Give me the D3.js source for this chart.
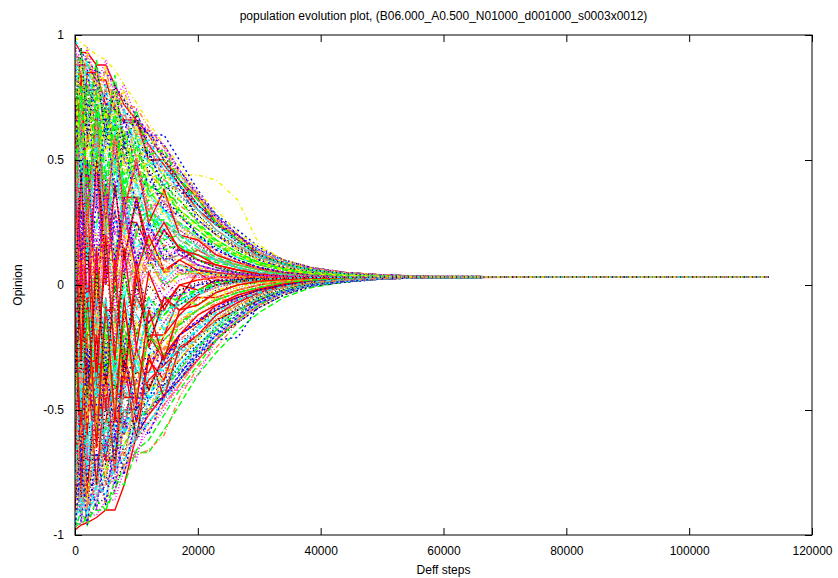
<!DOCTYPE html>
<html>
<head>
<meta charset="utf-8">
<script src="https://cdn.jsdelivr.net/npm/d3@7"></script>
<style>
  body { margin: 0; background: #fff; }
  svg { display: block; font-family: "Liberation Sans", Arial, sans-serif; }
</style>
</head>
<body>
<svg id="chart" width="838" height="578"></svg>
<script>
'use strict';

const TITLE = 'population evolution plot, (B06.000_A0.500_N01000_d001000_s0003x0012)';
const X_LABEL = 'Deff steps';
const Y_LABEL = 'Opinion';

const X_TICKS = [0, 20000, 40000, 60000, 80000, 100000, 120000];
const Y_TICKS = [-1, -0.5, 0, 0.5, 1];

// sample steps shared by every agent trajectory
const STEPS = [0, 1000, 2000, 3500, 5000, 6500, 8000, 10000, 12000, 14500,
    17000, 20000, 23000, 26500, 30000, 34000, 38500, 44000, 50000, 58000];
const END_STEP = 113000;
const FINAL_OPINION = 0.032;

// opinions of sampled agents at each step (first group)
const AGENTS_A = [
    [0.97, 0.93, 0.93, 0.88, 0.88, 0.8, 0.72, 0.66, 0.6, 0.5, 0.42, 0.35, 0.24, 0.2, 0.12, 0.09, 0.065, 0.05, 0.04, 0.034],
    [-0.95, -0.96, -0.93, -0.9, -0.9, -0.82, -0.72, -0.67, -0.67, -0.58, -0.48, -0.36, -0.27, -0.18, -0.11, -0.05, -0.01, 0.012, 0.024, 0.03],
    [0.45, 0.6, 0.72, 0.72, 0.55, 0.64, 0.6, 0.62, 0.62, 0.5, 0.4, 0.3, 0.24, 0.18, 0.12, 0.08, 0.06, 0.045, 0.038, 0.033],
    [-0.3, -0.3, -0.1, -0.35, -0.35, -0.2, 0.05, 0.05, -0.1, 0.02, -0.05, 0.0, 0.04, 0.02, 0.03, 0.035, 0.03, 0.032, 0.031, 0.032],
    [0.1, 0.1, 0.3, 0.22, 0.48, 0.48, 0.3, 0.15, 0.2, 0.26, 0.18, 0.1, 0.08, 0.06, 0.05, 0.04, 0.035, 0.033, 0.032, 0.032],
    [-0.7, -0.7, -0.88, -0.84, -0.8, -0.78, -0.72, -0.68, -0.66, -0.6, -0.45, -0.33, -0.25, -0.15, -0.09, -0.04, 0.0, 0.015, 0.025, 0.03],
    [0.8, 0.88, 0.88, 0.86, 0.8, 0.76, 0.7, 0.6, 0.52, 0.44, 0.44, 0.44, 0.42, 0.34, 0.16, 0.1, 0.07, 0.05, 0.04, 0.034],
    [-0.1, -0.25, -0.25, -0.5, -0.42, -0.42, -0.3, -0.2, -0.25, -0.15, -0.05, -0.08, -0.02, 0.0, 0.01, 0.02, 0.025, 0.028, 0.03, 0.031],
    [0.6, 0.6, 0.4, 0.4, 0.2, 0.1, 0.1, -0.05, 0.0, 0.08, 0.05, 0.06, 0.04, 0.05, 0.04, 0.035, 0.033, 0.032, 0.032, 0.032],

    [-0.98, -0.96, -0.95, -0.93, -0.9, -0.9, -0.8, -0.6, -0.52, -0.44, -0.38, -0.3, -0.22, -0.14, -0.08, -0.03, 0.0, 0.015, 0.025, 0.03],
    [0.3, 0.3, 0.1, 0.1, -0.15, -0.15, -0.05, 0.1, 0.18, 0.1, 0.12, 0.08, 0.06, 0.05, 0.04, 0.035, 0.033, 0.032, 0.032, 0.032],
    [-0.6, -0.62, -0.7, -0.7, -0.66, -0.6, -0.55, -0.5, -0.42, -0.4, -0.35, -0.28, -0.22, -0.21, -0.08, -0.03, 0.0, 0.012, 0.024, 0.03],
    [-0.75, -0.75, -0.6, -0.6, -0.55, -0.62, -0.5, -0.45, -0.45, -0.42, -0.42, -0.36, -0.22, -0.12, -0.06, -0.02, 0.01, 0.02, 0.027, 0.031],
    [0.85, 0.85, 0.7, 0.7, 0.5, 0.5, 0.35, 0.4, 0.3, 0.22, 0.25, 0.18, 0.12, 0.08, 0.06, 0.045, 0.038, 0.034, 0.033, 0.032],
    [0.92, 0.9, 0.86, 0.8, 0.78, 0.74, 0.72, 0.71, 0.63, 0.55, 0.45, 0.35, 0.27, 0.2, 0.13, 0.09, 0.065, 0.05, 0.04, 0.034],
    [-0.4, -0.4, -0.2, -0.2, 0.1, 0.1, 0.0, -0.1, -0.05, 0.05, 0.0, 0.02, 0.03, 0.025, 0.03, 0.03, 0.031, 0.032, 0.032, 0.032],
    [0.7, 0.72, 0.76, 0.76, 0.7, 0.62, 0.58, 0.5, 0.48, 0.42, 0.36, 0.28, 0.21, 0.15, 0.11, 0.08, 0.055, 0.045, 0.037, 0.033],
    [-0.85, -0.85, -0.8, -0.72, -0.72, -0.6, -0.48, -0.5, -0.4, -0.32, -0.26, -0.2, -0.14, -0.09, -0.05, -0.02, 0.005, 0.018, 0.026, 0.03],

    [0.2, 0.2, -0.3, -0.3, 0.1, 0.1, 0.25, 0.25, 0.15, 0.05, 0.1, 0.14, 0.1, 0.07, 0.05, 0.04, 0.035, 0.033, 0.032, 0.032],
    [0.9, 0.9, 0.84, 0.7, 0.7, 0.56, 0.56, 0.45, 0.38, 0.3, 0.25, 0.2, 0.16, 0.12, 0.09, 0.065, 0.05, 0.04, 0.035, 0.032],
    [-0.88, -0.88, -0.82, -0.78, -0.66, -0.66, -0.58, -0.52, -0.46, -0.38, -0.3, -0.24, -0.18, -0.12, -0.07, -0.03, 0.0, 0.015, 0.025, 0.03],
    [0.55, 0.55, 0.3, 0.3, 0.38, 0.2, 0.2, 0.3, 0.22, 0.18, 0.12, 0.08, 0.06, 0.05, 0.04, 0.036, 0.034, 0.033, 0.032, 0.032],
    [-0.5, -0.5, -0.62, -0.45, -0.45, -0.3, -0.36, -0.2, -0.28, -0.18, -0.12, -0.1, -0.05, -0.02, 0.0, 0.015, 0.022, 0.027, 0.03, 0.031],
    [0.05, 0.05, 0.25, 0.25, 0.35, 0.15, 0.15, 0.0, 0.1, 0.1, 0.06, 0.05, 0.04, 0.035, 0.033, 0.032, 0.032, 0.032, 0.032, 0.032],
    [-0.8, -0.8, -0.75, -0.75, -0.7, -0.55, -0.55, -0.42, -0.42, -0.35, -0.25, -0.18, -0.12, -0.08, -0.05, -0.02, 0.005, 0.018, 0.026, 0.03],
    [0.4, 0.3, 0.3, 0.5, 0.5, 0.42, 0.32, 0.32, 0.25, 0.2, 0.22, 0.16, 0.12, 0.09, 0.07, 0.05, 0.04, 0.035, 0.033, 0.032],
    [-0.2, -0.2, 0.05, 0.05, -0.12, -0.25, -0.25, -0.1, -0.05, -0.1, -0.02, 0.0, 0.01, 0.02, 0.025, 0.028, 0.03, 0.031, 0.032, 0.032],

    [-0.65, -0.65, -0.4, -0.55, -0.55, -0.3, -0.45, -0.45, -0.2, -0.3, -0.2, -0.15, -0.1, -0.06, -0.03, 0.0, 0.015, 0.023, 0.028, 0.031],
    [0.65, 0.65, 0.6, 0.45, 0.45, 0.5, 0.38, 0.28, 0.28, 0.2, 0.16, 0.12, 0.1, 0.08, 0.06, 0.045, 0.038, 0.034, 0.033, 0.032],
    [0.95, 0.93, 0.9, 0.85, 0.85, 0.8, 0.74, 0.68, 0.6, 0.6, 0.5, 0.38, 0.28, 0.22, 0.15, 0.1, 0.07, 0.05, 0.04, 0.034],
    [-0.05, 0.15, 0.15, -0.15, -0.15, -0.05, 0.1, 0.0, 0.05, -0.05, 0.02, 0.04, 0.02, 0.03, 0.03, 0.032, 0.032, 0.032, 0.032, 0.032],
    [-0.92, -0.9, -0.9, -0.85, -0.75, -0.75, -0.64, -0.56, -0.5, -0.4, -0.32, -0.25, -0.16, -0.1, -0.06, -0.02, 0.005, 0.018, 0.026, 0.03],
    [0.35, 0.35, 0.48, 0.48, 0.3, 0.42, 0.42, 0.36, 0.3, 0.25, 0.18, 0.14, 0.1, 0.08, 0.06, 0.045, 0.04, 0.035, 0.033, 0.032],
    [0.5, 0.5, 0.62, 0.62, 0.55, 0.55, 0.48, 0.4, 0.35, 0.28, 0.22, 0.18, 0.14, 0.1, 0.07, 0.05, 0.04, 0.035, 0.033, 0.032],
    [-0.45, -0.45, -0.32, -0.32, -0.5, -0.38, -0.38, -0.28, -0.3, -0.22, -0.16, -0.1, -0.06, -0.03, -0.01, 0.01, 0.02, 0.026, 0.03, 0.031],
    [0.15, 0.15, 0.35, 0.2, 0.2, 0.28, 0.05, 0.05, 0.15, 0.1, 0.1, 0.06, 0.05, 0.04, 0.035, 0.033, 0.032, 0.032, 0.032, 0.032],

    [0.1, 0.1, -0.45, -0.45, -0.1, -0.3, -0.3, -0.05, -0.15, -0.08, 0.0, -0.02, 0.02, 0.01, 0.02, 0.025, 0.028, 0.03, 0.031, 0.032],
    [-0.72, -0.72, -0.5, -0.5, -0.58, -0.4, -0.4, -0.35, -0.22, -0.22, -0.15, -0.1, -0.06, -0.03, -0.01, 0.01, 0.02, 0.026, 0.03, 0.031],
    [0.25, 0.4, 0.4, 0.32, 0.6, 0.6, 0.5, 0.42, 0.42, 0.35, 0.28, 0.2, 0.14, 0.1, 0.07, 0.05, 0.04, 0.035, 0.033, 0.032],
    [0.82, 0.8, 0.8, 0.66, 0.66, 0.52, 0.45, 0.45, 0.32, 0.32, 0.24, 0.18, 0.14, 0.1, 0.07, 0.055, 0.045, 0.038, 0.034, 0.032],
    [-0.15, -0.15, -0.35, -0.2, -0.2, 0.0, -0.12, -0.12, -0.2, -0.12, -0.06, -0.03, 0.0, 0.01, 0.02, 0.025, 0.028, 0.03, 0.031, 0.032],
    [-0.9, -0.9, -0.88, -0.8, -0.8, -0.72, -0.66, -0.6, -0.55, -0.48, -0.4, -0.28, -0.2, -0.13, -0.07, -0.03, 0.0, 0.015, 0.025, 0.03],
    [0.99, 0.97, 0.95, 0.92, 0.9, 0.86, 0.8, 0.73, 0.65, 0.56, 0.48, 0.37, 0.3, 0.21, 0.15, 0.1, 0.07, 0.05, 0.04, 0.034],
    [0.55, 0.5, 0.7, 0.7, 0.62, 0.62, 0.52, 0.55, 0.46, 0.4, 0.34, 0.26, 0.2, 0.14, 0.1, 0.07, 0.05, 0.04, 0.035, 0.033],
    [-0.55, -0.55, -0.4, -0.4, -0.25, -0.35, -0.18, -0.18, -0.25, -0.15, -0.1, -0.06, -0.03, -0.01, 0.005, 0.015, 0.022, 0.027, 0.03, 0.031],

    [0.88, 0.88, 0.88, 0.82, 0.82, 0.7, 0.65, 0.65, 0.56, 0.48, 0.4, 0.3, 0.24, 0.2, 0.12, 0.08, 0.06, 0.045, 0.037, 0.033],
    [0.0, 0.0, -0.2, 0.15, 0.15, 0.05, 0.05, 0.2, 0.1, 0.0, 0.04, 0.06, 0.04, 0.035, 0.03, 0.032, 0.032, 0.032, 0.032, 0.032],
    [-0.78, -0.78, -0.85, -0.85, -0.8, -0.7, -0.7, -0.6, -0.48, -0.45, -0.36, -0.27, -0.2, -0.15, -0.09, -0.04, -0.005, 0.012, 0.024, 0.03],
    [0.35, 0.5, 0.5, 0.4, 0.4, 0.25, 0.32, 0.18, 0.18, 0.22, 0.15, 0.1, 0.07, 0.05, 0.04, 0.035, 0.033, 0.032, 0.032, 0.032],
    [0.75, 0.75, 0.64, 0.64, 0.58, 0.68, 0.6, 0.52, 0.5, 0.44, 0.44, 0.36, 0.28, 0.2, 0.14, 0.095, 0.065, 0.05, 0.04, 0.034],
    [-0.35, -0.35, -0.5, -0.5, -0.38, -0.44, -0.3, -0.3, -0.35, -0.25, -0.18, -0.12, -0.07, -0.04, -0.02, 0.0, 0.015, 0.024, 0.028, 0.031],
    [0.25, 0.25, 0.12, 0.12, 0.28, 0.28, 0.2, 0.08, 0.08, 0.12, 0.1, 0.07, 0.05, 0.045, 0.04, 0.036, 0.034, 0.033, 0.032, 0.032],
    [-0.95, -0.93, -0.93, -0.88, -0.85, -0.82, -0.7, -0.62, -0.55, -0.46, -0.38, -0.29, -0.22, -0.15, -0.09, -0.04, -0.005, 0.012, 0.024, 0.03],
    [0.42, 0.42, 0.55, 0.55, 0.45, 0.38, 0.38, 0.28, 0.32, 0.24, 0.2, 0.16, 0.12, 0.09, 0.065, 0.05, 0.04, 0.035, 0.033, 0.032],

    [-0.4, -0.4, -0.7, -0.7, -0.62, -0.62, -0.5, -0.5, -0.38, -0.32, -0.26, -0.2, -0.14, -0.1, -0.06, -0.02, 0.005, 0.018, 0.026, 0.03],
    [0.78, 0.78, 0.72, 0.72, 0.6, 0.52, 0.52, 0.46, 0.4, 0.36, 0.3, 0.24, 0.18, 0.13, 0.09, 0.065, 0.05, 0.04, 0.035, 0.032],
    [0.0, 0.0, 0.18, 0.18, 0.05, 0.25, 0.25, 0.12, 0.12, 0.06, 0.08, 0.06, 0.05, 0.04, 0.035, 0.033, 0.032, 0.032, 0.032, 0.032],
    [-0.6, -0.6, -0.66, -0.52, -0.52, -0.48, -0.4, -0.4, -0.3, -0.28, -0.2, -0.14, -0.09, -0.05, -0.02, 0.0, 0.015, 0.024, 0.028, 0.031],
    [0.3, 0.3, 0.5, 0.38, 0.38, 0.35, 0.45, 0.45, 0.36, 0.3, 0.24, 0.19, 0.15, 0.11, 0.08, 0.06, 0.045, 0.038, 0.034, 0.032],
    [0.7, 0.7, 0.66, 0.66, 0.58, 0.58, 0.5, 0.4, 0.4, 0.33, 0.27, 0.22, 0.16, 0.12, 0.08, 0.06, 0.045, 0.038, 0.034, 0.032],
    [-0.25, -0.25, 0.0, 0.0, -0.3, -0.3, -0.2, -0.2, -0.1, -0.14, -0.08, -0.04, -0.01, 0.005, 0.015, 0.022, 0.027, 0.03, 0.031, 0.032],
    [0.92, 0.9, 0.9, 0.8, 0.8, 0.74, 0.74, 0.64, 0.58, 0.52, 0.46, 0.36, 0.28, 0.2, 0.14, 0.1, 0.07, 0.05, 0.04, 0.034],
    [-0.9, -0.9, -0.86, -0.86, -0.76, -0.76, -0.68, -0.58, -0.5, -0.42, -0.34, -0.26, -0.18, -0.12, -0.07, -0.03, 0.0, 0.015, 0.025, 0.03],

    [0.6, 0.6, 0.85, 0.85, 0.72, 0.72, 0.66, 0.66, 0.5, 0.5, 0.42, 0.32, 0.26, 0.18, 0.11, 0.08, 0.06, 0.045, 0.037, 0.033],
    [-0.35, -0.35, -0.15, -0.15, -0.4, -0.2, -0.2, -0.3, -0.12, -0.12, -0.06, -0.08, -0.03, 0.0, 0.01, 0.02, 0.025, 0.028, 0.03, 0.031],
    [0.68, 0.68, 0.8, 0.8, 0.7, 0.7, 0.66, 0.56, 0.52, 0.46, 0.38, 0.32, 0.25, 0.18, 0.12, 0.085, 0.06, 0.045, 0.037, 0.033],
    [-0.97, -0.95, -0.92, -0.92, -0.86, -0.86, -0.74, -0.66, -0.58, -0.5, -0.4, -0.3, -0.22, -0.14, -0.08, -0.03, 0.0, 0.015, 0.025, 0.03],
    [0.5, 0.5, 0.35, 0.35, 0.45, 0.25, 0.25, 0.3, 0.3, 0.2, 0.15, 0.12, 0.1, 0.07, 0.05, 0.04, 0.036, 0.034, 0.033, 0.032],
    [0.15, 0.15, 0.0, 0.0, 0.2, 0.12, 0.12, 0.15, 0.05, 0.05, 0.08, 0.05, 0.04, 0.035, 0.033, 0.032, 0.032, 0.032, 0.032, 0.032],
    [-0.62, -0.62, -0.55, -0.55, -0.46, -0.52, -0.4, -0.32, -0.32, -0.26, -0.2, -0.15, -0.1, -0.06, -0.03, -0.01, 0.01, 0.02, 0.027, 0.031],
    [0.2, 0.2, 0.42, 0.42, 0.25, 0.35, 0.35, 0.22, 0.22, 0.16, 0.14, 0.1, 0.07, 0.06, 0.045, 0.04, 0.035, 0.033, 0.032, 0.032],
    [0.87, 0.87, 0.82, 0.75, 0.75, 0.65, 0.6, 0.6, 0.54, 0.45, 0.38, 0.3, 0.22, 0.16, 0.11, 0.08, 0.06, 0.045, 0.037, 0.033],

    [-0.8, -0.8, -0.2, -0.2, -0.5, -0.5, -0.1, -0.35, -0.35, -0.2, -0.12, -0.05, -0.05, -0.02, 0.0, 0.015, 0.022, 0.027, 0.03, 0.031],
    [0.45, 0.45, 0.25, 0.25, 0.4, 0.4, 0.32, 0.36, 0.26, 0.26, 0.2, 0.15, 0.11, 0.08, 0.06, 0.045, 0.038, 0.034, 0.033, 0.032],
    [-0.3, -0.3, -0.48, -0.48, -0.32, -0.32, -0.42, -0.25, -0.25, -0.3, -0.2, -0.14, -0.1, -0.06, -0.03, -0.005, 0.012, 0.022, 0.028, 0.031],
    [0.92, 0.92, 0.86, 0.86, 0.8, 0.8, 0.68, 0.62, 0.55, 0.46, 0.4, 0.32, 0.24, 0.17, 0.12, 0.085, 0.06, 0.045, 0.037, 0.033],
    [-0.85, -0.82, -0.82, -0.68, -0.68, -0.56, -0.6, -0.48, -0.44, -0.36, -0.28, -0.21, -0.15, -0.1, -0.05, -0.02, 0.005, 0.018, 0.026, 0.03],
    [0.6, 0.55, 0.55, 0.75, 0.75, 0.66, 0.54, 0.54, 0.45, 0.38, 0.32, 0.26, 0.2, 0.15, 0.1, 0.07, 0.05, 0.04, 0.035, 0.032],
    [-0.1, -0.1, 0.2, 0.2, 0.0, 0.0, 0.12, 0.12, 0.02, 0.06, 0.04, 0.05, 0.04, 0.035, 0.033, 0.032, 0.032, 0.032, 0.032, 0.032],
    [-0.7, -0.7, -0.6, -0.6, -0.68, -0.52, -0.52, -0.46, -0.4, -0.34, -0.27, -0.2, -0.14, -0.08, -0.04, -0.01, 0.01, 0.02, 0.027, 0.031],
    [0.05, 0.05, -0.15, -0.15, 0.1, 0.1, -0.05, -0.05, 0.08, 0.03, 0.05, 0.03, 0.035, 0.03, 0.032, 0.032, 0.032, 0.032, 0.032, 0.032],

    [0.4, 0.4, 0.6, 0.6, 0.05, 0.05, 0.35, 0.35, 0.1, 0.22, 0.15, 0.1, 0.08, 0.06, 0.045, 0.038, 0.035, 0.033, 0.032, 0.032],
    [-0.88, -0.88, -0.8, -0.8, -0.74, -0.64, -0.64, -0.54, -0.5, -0.42, -0.34, -0.25, -0.18, -0.11, -0.06, -0.02, 0.005, 0.018, 0.026, 0.03],
    [0.82, 0.82, 0.78, 0.72, 0.72, 0.76, 0.7, 0.64, 0.6, 0.56, 0.46, 0.36, 0.27, 0.2, 0.13, 0.09, 0.065, 0.05, 0.04, 0.034],
    [-0.2, -0.2, -0.35, -0.35, -0.1, -0.1, -0.22, -0.15, -0.15, -0.06, -0.1, -0.04, -0.01, 0.01, 0.02, 0.025, 0.028, 0.03, 0.031, 0.032],
    [0.62, 0.62, 0.45, 0.45, 0.52, 0.52, 0.4, 0.48, 0.48, 0.4, 0.45, 0.3, 0.22, 0.16, 0.11, 0.08, 0.055, 0.045, 0.037, 0.033],
    [-0.5, -0.5, -0.65, -0.65, -0.55, -0.55, -0.45, -0.38, -0.4, -0.3, -0.22, -0.16, -0.11, -0.07, -0.03, -0.01, 0.01, 0.02, 0.027, 0.031],
    [0.72, 0.72, 0.62, 0.62, 0.7, 0.6, 0.6, 0.52, 0.44, 0.38, 0.3, 0.24, 0.18, 0.13, 0.09, 0.065, 0.05, 0.04, 0.035, 0.032],
    [0.3, 0.3, 0.1, 0.1, 0.22, 0.22, 0.15, 0.05, 0.05, 0.12, 0.08, 0.06, 0.05, 0.04, 0.035, 0.033, 0.032, 0.032, 0.032, 0.032],
    [-0.45, -0.45, -0.6, -0.6, -0.45, -0.45, -0.35, -0.4, -0.3, -0.22, -0.16, -0.12, -0.08, -0.04, -0.015, 0.005, 0.018, 0.025, 0.029, 0.031]
];

// second group: agents that swing back and forth early on
const AGENTS_B = [
    [-0.5, 0.2, 0.2, -0.6, -0.1, -0.1, -0.4, 0.1, -0.2, -0.2, -0.05, 0.05, 0.0, 0.02, 0.03, 0.03, 0.031, 0.032, 0.032, 0.032],
    [0.75, 0.4, 0.4, 0.62, 0.2, 0.45, 0.45, 0.3, 0.34, 0.18, 0.2, 0.12, 0.09, 0.07, 0.05, 0.042, 0.036, 0.034, 0.033, 0.032],
    [-0.9, -0.6, -0.8, -0.5, -0.72, -0.45, -0.6, -0.38, -0.46, -0.3, -0.26, -0.18, -0.12, -0.07, -0.035, -0.01, 0.01, 0.02, 0.027, 0.031],
    [0.15, -0.4, -0.1, -0.1, -0.5, -0.2, 0.1, -0.3, -0.1, -0.15, -0.06, -0.02, 0.0, 0.015, 0.022, 0.027, 0.03, 0.031, 0.032, 0.032],
    [0.98, 0.94, 0.7, 0.82, 0.6, 0.74, 0.56, 0.62, 0.48, 0.5, 0.36, 0.3, 0.22, 0.16, 0.11, 0.08, 0.06, 0.045, 0.037, 0.033],
    [-0.2, 0.35, 0.1, 0.4, 0.0, 0.3, 0.05, 0.22, 0.1, 0.16, 0.08, 0.08, 0.05, 0.04, 0.035, 0.033, 0.032, 0.032, 0.032, 0.032],
    [-0.95, -0.7, -0.88, -0.6, -0.75, -0.68, -0.5, -0.55, -0.42, -0.38, -0.3, -0.22, -0.16, -0.1, -0.05, -0.02, 0.005, 0.018, 0.026, 0.03],
    [0.5, 0.8, 0.55, 0.8, 0.65, 0.72, 0.5, 0.58, 0.52, 0.4, 0.38, 0.28, 0.2, 0.15, 0.1, 0.07, 0.055, 0.042, 0.036, 0.033],
    [-0.6, -0.2, -0.5, -0.2, -0.4, -0.15, -0.3, -0.12, -0.2, -0.1, -0.08, -0.04, -0.01, 0.01, 0.02, 0.025, 0.028, 0.03, 0.031, 0.032],

    [0.3, -0.55, -0.55, -0.2, -0.7, -0.3, -0.6, -0.25, -0.42, -0.28, -0.2, -0.12, -0.08, -0.04, -0.015, 0.005, 0.018, 0.025, 0.029, 0.031],
    [-0.05, 0.5, 0.25, 0.55, 0.3, 0.1, 0.4, 0.2, 0.3, 0.14, 0.16, 0.1, 0.07, 0.05, 0.04, 0.035, 0.033, 0.032, 0.032, 0.032],
    [0.9, 0.6, 0.86, 0.58, 0.78, 0.5, 0.66, 0.46, 0.54, 0.38, 0.4, 0.26, 0.2, 0.14, 0.1, 0.07, 0.05, 0.04, 0.035, 0.032],
    [-0.85, -0.5, -0.75, -0.75, -0.4, -0.62, -0.35, -0.52, -0.3, -0.36, -0.22, -0.2, -0.12, -0.06, -0.03, -0.005, 0.012, 0.022, 0.028, 0.031],
    [0.35, -0.1, 0.2, -0.2, 0.15, 0.0, 0.3, 0.05, 0.18, 0.02, 0.08, 0.04, 0.05, 0.03, 0.032, 0.032, 0.032, 0.032, 0.032, 0.032],
    [-0.75, -0.3, -0.65, -0.65, -0.25, -0.5, -0.3, -0.42, -0.3, -0.26, -0.15, -0.1, -0.06, -0.03, -0.01, 0.01, 0.02, 0.026, 0.03, 0.031],
    [0.65, 0.3, 0.65, 0.4, 0.7, 0.35, 0.55, 0.32, 0.4, 0.28, 0.24, 0.18, 0.12, 0.09, 0.065, 0.05, 0.04, 0.035, 0.033, 0.032],
    [-0.35, 0.1, -0.35, 0.0, -0.25, 0.1, -0.15, 0.05, -0.1, 0.0, -0.02, 0.01, 0.02, 0.025, 0.028, 0.03, 0.031, 0.032, 0.032, 0.032],
    [0.96, 0.75, 0.92, 0.7, 0.86, 0.65, 0.75, 0.58, 0.6, 0.5, 0.42, 0.34, 0.26, 0.18, 0.12, 0.085, 0.06, 0.045, 0.037, 0.033],

    [-0.9, -0.4, -0.85, -0.3, -0.7, -0.7, -0.25, -0.55, -0.3, -0.38, -0.2, -0.15, -0.08, -0.05, -0.02, 0.0, 0.015, 0.024, 0.028, 0.031],
    [0.2, -0.3, 0.0, -0.4, -0.1, -0.35, 0.05, -0.2, -0.05, -0.12, -0.04, -0.02, 0.01, 0.02, 0.025, 0.028, 0.03, 0.031, 0.032, 0.032],
    [0.58, 0.85, 0.6, 0.82, 0.62, 0.78, 0.58, 0.66, 0.56, 0.52, 0.42, 0.34, 0.26, 0.19, 0.13, 0.09, 0.065, 0.05, 0.04, 0.034],
    [0.7, 0.2, 0.5, 0.15, 0.45, 0.2, 0.38, 0.1, 0.25, 0.12, 0.14, 0.08, 0.06, 0.045, 0.038, 0.034, 0.033, 0.032, 0.032, 0.032],
    [-0.65, -0.9, -0.6, -0.82, -0.55, -0.7, -0.5, -0.58, -0.45, -0.42, -0.32, -0.24, -0.17, -0.1, -0.05, -0.02, 0.005, 0.018, 0.026, 0.03],
    [0.45, 0.05, 0.45, 0.0, 0.35, 0.1, 0.25, 0.0, 0.15, 0.05, 0.06, 0.04, 0.035, 0.03, 0.032, 0.032, 0.032, 0.032, 0.032, 0.032],
    [-0.3, -0.65, -0.25, -0.6, -0.3, -0.5, -0.2, -0.4, -0.2, -0.25, -0.14, -0.1, -0.05, -0.02, 0.0, 0.015, 0.022, 0.027, 0.03, 0.031],
    [0.85, 0.5, 0.8, 0.45, 0.7, 0.45, 0.6, 0.4, 0.46, 0.32, 0.3, 0.2, 0.15, 0.1, 0.07, 0.05, 0.04, 0.035, 0.033, 0.032],
    [0.1, 0.6, 0.2, 0.55, 0.25, 0.5, 0.2, 0.4, 0.22, 0.3, 0.18, 0.14, 0.1, 0.07, 0.05, 0.04, 0.035, 0.033, 0.032, 0.032],

    [0.75, 0.0, 0.5, -0.1, 0.4, 0.0, 0.3, 0.05, 0.2, 0.06, 0.1, 0.06, 0.05, 0.04, 0.035, 0.033, 0.032, 0.032, 0.032, 0.032],
    [-0.98, -0.9, -0.96, -0.86, -0.9, -0.78, -0.8, -0.66, -0.62, -0.52, -0.42, -0.32, -0.22, -0.14, -0.08, -0.03, 0.0, 0.015, 0.025, 0.03],
    [-0.15, 0.3, -0.1, 0.35, 0.0, 0.3, 0.05, 0.25, 0.08, 0.15, 0.06, 0.06, 0.04, 0.035, 0.033, 0.032, 0.032, 0.032, 0.032, 0.032],
    [0.62, 0.9, 0.7, 0.86, 0.66, 0.8, 0.6, 0.7, 0.56, 0.54, 0.44, 0.36, 0.27, 0.2, 0.14, 0.09, 0.065, 0.05, 0.04, 0.034],
    [-0.4, -0.8, -0.5, -0.78, -0.45, -0.65, -0.4, -0.52, -0.35, -0.34, -0.24, -0.18, -0.12, -0.07, -0.03, -0.01, 0.01, 0.02, 0.027, 0.031],
    [0.88, 0.62, 0.84, 0.55, 0.8, 0.52, 0.7, 0.5, 0.56, 0.42, 0.38, 0.3, 0.22, 0.16, 0.11, 0.08, 0.055, 0.045, 0.037, 0.033],
    [0.0, -0.45, -0.1, -0.5, -0.2, -0.4, -0.1, -0.3, -0.15, -0.18, -0.1, -0.06, -0.02, 0.0, 0.015, 0.022, 0.027, 0.03, 0.031, 0.032],
    [-0.75, -0.45, -0.78, -0.4, -0.66, -0.38, -0.56, -0.34, -0.42, -0.28, -0.24, -0.16, -0.1, -0.05, -0.02, 0.0, 0.015, 0.024, 0.028, 0.031],
    [0.52, 0.15, 0.48, 0.1, 0.4, 0.15, 0.32, 0.12, 0.24, 0.1, 0.12, 0.07, 0.05, 0.04, 0.035, 0.033, 0.032, 0.032, 0.032, 0.032],

    [-0.25, 0.45, -0.1, 0.5, 0.0, 0.4, 0.1, 0.35, 0.15, 0.25, 0.14, 0.12, 0.08, 0.06, 0.045, 0.038, 0.035, 0.033, 0.032, 0.032],
    [0.82, 0.55, 0.8, 0.5, 0.72, 0.48, 0.62, 0.42, 0.5, 0.36, 0.34, 0.25, 0.18, 0.13, 0.09, 0.065, 0.05, 0.04, 0.035, 0.032],
    [-0.7, -0.95, -0.72, -0.9, -0.62, -0.8, -0.55, -0.62, -0.5, -0.44, -0.36, -0.26, -0.19, -0.12, -0.06, -0.025, 0.0, 0.015, 0.025, 0.03],
    [0.28, 0.65, 0.3, 0.6, 0.35, 0.55, 0.3, 0.48, 0.3, 0.34, 0.22, 0.17, 0.12, 0.09, 0.065, 0.05, 0.04, 0.035, 0.033, 0.032],
    [-0.55, -0.1, -0.5, -0.05, -0.4, -0.1, -0.3, -0.05, -0.2, -0.1, -0.08, -0.03, 0.0, 0.015, 0.022, 0.027, 0.03, 0.031, 0.032, 0.032],
    [0.95, 0.8, 0.92, 0.76, 0.86, 0.72, 0.78, 0.6, 0.62, 0.52, 0.44, 0.36, 0.26, 0.19, 0.13, 0.09, 0.065, 0.05, 0.04, 0.034],
    [-0.82, -0.55, -0.85, -0.52, -0.76, -0.46, -0.64, -0.45, -0.5, -0.36, -0.3, -0.2, -0.14, -0.08, -0.04, -0.01, 0.01, 0.02, 0.027, 0.031],
    [0.1, -0.35, 0.15, -0.3, 0.1, -0.25, 0.05, -0.2, 0.0, -0.08, -0.02, 0.0, 0.015, 0.022, 0.027, 0.03, 0.031, 0.032, 0.032, 0.032],
    [-0.98, -0.75, -0.94, -0.7, -0.86, -0.62, -0.74, -0.55, -0.56, -0.45, -0.37, -0.27, -0.2, -0.12, -0.07, -0.03, 0.0, 0.015, 0.025, 0.03],

    [0.55, 0.85, 0.3, 0.7, 0.25, 0.6, 0.3, 0.5, 0.25, 0.38, 0.2, 0.18, 0.12, 0.09, 0.065, 0.05, 0.04, 0.035, 0.033, 0.032],
    [-0.45, 0.0, -0.45, 0.05, -0.35, 0.0, -0.3, 0.02, -0.18, -0.05, -0.06, -0.02, 0.0, 0.015, 0.022, 0.027, 0.03, 0.031, 0.032, 0.032],
    [0.4, 0.1, 0.5, 0.05, 0.42, 0.1, 0.35, 0.08, 0.25, 0.1, 0.14, 0.08, 0.06, 0.045, 0.038, 0.034, 0.033, 0.032, 0.032, 0.032],
    [-0.6, -0.95, -0.65, -0.9, -0.6, -0.84, -0.52, -0.7, -0.5, -0.48, -0.38, -0.28, -0.2, -0.13, -0.07, -0.03, 0.0, 0.015, 0.025, 0.03],
    [0.15, 0.55, 0.1, 0.6, 0.2, 0.5, 0.2, 0.42, 0.22, 0.3, 0.2, 0.15, 0.1, 0.07, 0.05, 0.04, 0.035, 0.033, 0.032, 0.032],
    [-0.1, -0.6, -0.2, -0.55, -0.2, -0.5, -0.2, -0.4, -0.2, -0.26, -0.14, -0.1, -0.05, -0.02, 0.0, 0.015, 0.022, 0.027, 0.03, 0.031],
    [0.9, 0.65, 0.95, 0.7, 0.88, 0.66, 0.78, 0.62, 0.6, 0.5, 0.44, 0.35, 0.26, 0.19, 0.13, 0.09, 0.065, 0.05, 0.04, 0.034],
    [-0.88, -0.6, -0.9, -0.55, -0.8, -0.5, -0.68, -0.48, -0.52, -0.4, -0.33, -0.24, -0.17, -0.1, -0.05, -0.02, 0.005, 0.018, 0.026, 0.03],
    [0.7, 0.35, 0.65, 0.3, 0.6, 0.3, 0.5, 0.28, 0.38, 0.22, 0.24, 0.15, 0.1, 0.07, 0.05, 0.04, 0.035, 0.033, 0.032, 0.032],

    [0.0, -0.85, -0.3, -0.8, -0.35, -0.75, -0.3, -0.62, -0.28, -0.45, -0.25, -0.2, -0.12, -0.07, -0.03, -0.005, 0.012, 0.022, 0.028, 0.031],
    [0.6, 0.95, 0.65, 0.9, 0.6, 0.84, 0.55, 0.7, 0.52, 0.54, 0.42, 0.34, 0.25, 0.18, 0.12, 0.085, 0.06, 0.045, 0.037, 0.033],
    [-0.35, 0.05, -0.4, 0.1, -0.3, 0.05, -0.25, 0.0, -0.15, -0.05, -0.04, 0.0, 0.015, 0.022, 0.027, 0.03, 0.031, 0.032, 0.032, 0.032],
    [0.25, -0.2, 0.3, -0.15, 0.25, -0.1, 0.2, -0.05, 0.15, 0.0, 0.06, 0.03, 0.035, 0.03, 0.032, 0.032, 0.032, 0.032, 0.032, 0.032],
    [0.92, 0.7, 0.9, 0.66, 0.8, 0.6, 0.7, 0.55, 0.58, 0.46, 0.4, 0.32, 0.24, 0.17, 0.12, 0.085, 0.06, 0.045, 0.037, 0.033],
    [-0.95, -0.8, -0.95, -0.75, -0.88, -0.7, -0.75, -0.6, -0.58, -0.48, -0.4, -0.3, -0.21, -0.14, -0.08, -0.03, 0.0, 0.015, 0.025, 0.03],
    [0.4, 0.0, 0.35, -0.05, 0.3, 0.0, 0.25, 0.02, 0.18, 0.06, 0.08, 0.05, 0.04, 0.035, 0.033, 0.032, 0.032, 0.032, 0.032, 0.032],
    [-0.55, -0.85, -0.5, -0.8, -0.48, -0.7, -0.42, -0.6, -0.4, -0.4, -0.3, -0.22, -0.15, -0.09, -0.045, -0.015, 0.008, 0.02, 0.027, 0.031],
    [0.8, 0.95, 0.6, 0.85, 0.55, 0.78, 0.5, 0.65, 0.48, 0.48, 0.36, 0.3, 0.22, 0.16, 0.11, 0.08, 0.055, 0.045, 0.037, 0.033],

    [-0.7, 0.1, -0.6, 0.15, -0.5, 0.1, -0.4, 0.05, -0.25, -0.05, -0.1, -0.04, 0.0, 0.015, 0.022, 0.027, 0.03, 0.031, 0.032, 0.032],
    [0.45, 0.8, 0.4, 0.78, 0.42, 0.7, 0.4, 0.6, 0.38, 0.44, 0.3, 0.24, 0.17, 0.12, 0.085, 0.06, 0.045, 0.038, 0.034, 0.032],
    [-0.2, -0.7, -0.25, -0.65, -0.3, -0.6, -0.3, -0.5, -0.28, -0.32, -0.2, -0.15, -0.09, -0.05, -0.02, 0.0, 0.015, 0.024, 0.028, 0.031],
    [0.95, 0.85, 0.95, 0.8, 0.9, 0.75, 0.8, 0.66, 0.62, 0.56, 0.46, 0.37, 0.28, 0.2, 0.14, 0.1, 0.07, 0.05, 0.04, 0.034],
    [-0.95, -0.85, -0.92, -0.8, -0.84, -0.72, -0.7, -0.6, -0.55, -0.46, -0.38, -0.28, -0.2, -0.13, -0.07, -0.03, 0.0, 0.015, 0.025, 0.03],
    [0.2, 0.7, 0.25, 0.65, 0.3, 0.6, 0.3, 0.52, 0.3, 0.36, 0.24, 0.19, 0.13, 0.09, 0.065, 0.05, 0.04, 0.035, 0.033, 0.032],
    [-0.5, -0.1, -0.55, -0.1, -0.45, -0.15, -0.4, -0.15, -0.3, -0.2, -0.15, -0.08, -0.04, -0.01, 0.01, 0.02, 0.026, 0.03, 0.031, 0.032],
    [0.65, 0.95, 0.6, 0.88, 0.58, 0.8, 0.55, 0.68, 0.5, 0.5, 0.4, 0.32, 0.24, 0.17, 0.12, 0.085, 0.06, 0.045, 0.037, 0.033],
    [-0.3, -0.9, -0.35, -0.85, -0.4, -0.75, -0.38, -0.62, -0.36, -0.42, -0.28, -0.2, -0.13, -0.08, -0.04, -0.01, 0.01, 0.02, 0.027, 0.031],

    [0.5, -0.3, 0.35, -0.4, 0.2, -0.3, 0.15, -0.25, 0.05, -0.1, 0.0, 0.02, 0.03, 0.03, 0.031, 0.032, 0.032, 0.032, 0.032, 0.032],
    [-0.2, -0.55, -0.1, -0.6, -0.15, -0.55, -0.15, -0.45, -0.2, -0.28, -0.16, -0.1, -0.06, -0.03, -0.01, 0.01, 0.02, 0.026, 0.03, 0.031],
    [0.72, 0.4, 0.75, 0.35, 0.68, 0.35, 0.58, 0.3, 0.45, 0.3, 0.28, 0.2, 0.14, 0.1, 0.07, 0.05, 0.04, 0.035, 0.033, 0.032],
    [-0.1, 0.4, -0.05, 0.45, 0.0, 0.42, 0.05, 0.35, 0.1, 0.22, 0.12, 0.1, 0.07, 0.05, 0.04, 0.035, 0.033, 0.032, 0.032, 0.032],
    [-0.78, -0.4, -0.75, -0.35, -0.68, -0.3, -0.6, -0.3, -0.45, -0.3, -0.26, -0.17, -0.11, -0.06, -0.03, -0.005, 0.012, 0.022, 0.028, 0.031],
    [0.3, -0.15, 0.3, -0.2, 0.25, -0.15, 0.2, -0.1, 0.12, -0.02, 0.05, 0.02, 0.03, 0.03, 0.031, 0.032, 0.032, 0.032, 0.032, 0.032],
    [0.55, 0.9, 0.5, 0.85, 0.5, 0.78, 0.45, 0.64, 0.42, 0.46, 0.34, 0.28, 0.2, 0.14, 0.1, 0.07, 0.05, 0.04, 0.035, 0.032],
    [0.0, 0.45, 0.05, 0.5, 0.1, 0.4, 0.1, 0.34, 0.12, 0.22, 0.12, 0.1, 0.07, 0.05, 0.04, 0.035, 0.033, 0.032, 0.032, 0.032],
    [-0.65, -0.95, -0.6, -0.88, -0.56, -0.78, -0.5, -0.62, -0.46, -0.44, -0.34, -0.25, -0.17, -0.1, -0.05, -0.02, 0.005, 0.018, 0.026, 0.03],

    [-0.15, -0.6, 0.0, -0.65, -0.05, -0.55, -0.05, -0.48, -0.1, -0.3, -0.1, -0.08, -0.03, 0.0, 0.015, 0.022, 0.027, 0.03, 0.031, 0.032],
    [0.35, 0.75, 0.3, 0.7, 0.35, 0.66, 0.35, 0.56, 0.35, 0.4, 0.28, 0.22, 0.16, 0.11, 0.08, 0.06, 0.045, 0.038, 0.034, 0.032],
    [-0.98, -0.7, -0.96, -0.66, -0.88, -0.6, -0.76, -0.52, -0.6, -0.44, -0.38, -0.28, -0.2, -0.13, -0.07, -0.03, 0.0, 0.015, 0.025, 0.03],
    [0.45, 0.0, 0.42, 0.05, 0.36, 0.05, 0.3, 0.06, 0.22, 0.1, 0.12, 0.08, 0.06, 0.045, 0.038, 0.034, 0.033, 0.032, 0.032, 0.032],
    [0.05, -0.5, 0.0, -0.45, -0.05, -0.4, 0.0, -0.35, -0.05, -0.18, -0.06, -0.04, 0.0, 0.015, 0.022, 0.027, 0.03, 0.031, 0.032, 0.032],
    [-0.85, -0.55, -0.9, -0.5, -0.8, -0.45, -0.7, -0.42, -0.52, -0.36, -0.3, -0.21, -0.14, -0.08, -0.04, -0.01, 0.01, 0.02, 0.027, 0.031],
    [0.78, 0.5, 0.75, 0.45, 0.7, 0.45, 0.62, 0.4, 0.5, 0.36, 0.3, 0.23, 0.17, 0.12, 0.085, 0.06, 0.045, 0.038, 0.034, 0.032],
    [-0.4, 0.0, -0.45, 0.05, -0.4, 0.0, -0.35, 0.0, -0.22, -0.08, -0.08, -0.03, 0.0, 0.015, 0.022, 0.027, 0.03, 0.031, 0.032, 0.032],
    [0.25, 0.7, 0.2, 0.65, 0.2, 0.6, 0.22, 0.5, 0.25, 0.34, 0.2, 0.16, 0.11, 0.08, 0.06, 0.045, 0.038, 0.034, 0.033, 0.032]
];

// gnuplot-like line type cycle
const LINE_TYPES = [
    {color: '#ff0000', dash: null},
    {color: '#00ff00', dash: '6,3'},
    {color: '#0000ff', dash: '2,3'},
    {color: '#ff00ff', dash: '1,2'},
    {color: '#00ffff', dash: '5,2,1,2'},
    {color: '#ff7f40', dash: '5,2,1,2,1,2'},
    {color: '#f0f000', dash: '4,3,1,3'},
    {color: '#000000', dash: '1,3'},
    {color: '#a0a0a0', dash: '1,2'}
];

const svg = d3.select('#chart');
const width = +svg.attr('width');
const height = +svg.attr('height');
const margin = {top: 35, right: 26, bottom: 43, left: 75};
const innerW = width - margin.left - margin.right;
const innerH = height - margin.top - margin.bottom;

const x = d3.scaleLinear().domain([0, 120000]).range([0, innerW]);
const y = d3.scaleLinear().domain([-1, 1]).range([innerH, 0]);

const g = svg.append('g')
    .attr('transform', `translate(${margin.left},${margin.top})`);

g.append('defs').append('clipPath')
    .attr('id', 'plot-clip')
    .append('rect')
    .attr('width', innerW)
    .attr('height', innerH);

const line = d3.line()
    .x(d => x(d[0]))
    .y(d => y(d[1]));

const tracks = AGENTS_A.concat(AGENTS_B).map(vals => {
    const pts = vals.map((v, i) => [STEPS[i], v]);
    pts.push([END_STEP, FINAL_OPINION]);
    return pts;
});

g.append('g')
    .attr('clip-path', 'url(#plot-clip)')
    .selectAll('path')
    .data(tracks)
    .enter().append('path')
    .attr('d', line)
    .attr('fill', 'none')
    .attr('stroke-width', 1.4)
    .attr('stroke', (d, i) => LINE_TYPES[i % LINE_TYPES.length].color)
    .attr('stroke-dasharray', (d, i) => LINE_TYPES[i % LINE_TYPES.length].dash);

// axes with inward ticks on all four sides
const tickLen = 7;
const styleAxis = sel => {
    sel.select('.domain').remove();
    sel.selectAll('.tick line').attr('stroke', '#000');
    sel.selectAll('.tick text')
        .attr('fill', '#000')
        .style('font-size', '12px')
        .style('font-family', '"Liberation Sans", Arial, sans-serif');
};

g.append('g')
    .attr('transform', `translate(0,${innerH})`)
    .call(d3.axisBottom(x).tickValues(X_TICKS).tickFormat(d => String(d))
        .tickSizeInner(-tickLen).tickSizeOuter(0).tickPadding(11))
    .call(styleAxis);

g.append('g')
    .call(d3.axisTop(x).tickValues(X_TICKS).tickFormat('')
        .tickSizeInner(-tickLen).tickSizeOuter(0))
    .call(styleAxis);

g.append('g')
    .call(d3.axisLeft(y).tickValues(Y_TICKS).tickFormat(d => String(d))
        .tickSizeInner(-tickLen).tickSizeOuter(0).tickPadding(11))
    .call(styleAxis);

g.append('g')
    .attr('transform', `translate(${innerW},0)`)
    .call(d3.axisRight(y).tickValues(Y_TICKS).tickFormat('')
        .tickSizeInner(-tickLen).tickSizeOuter(0))
    .call(styleAxis);

g.append('rect')
    .attr('width', innerW)
    .attr('height', innerH)
    .attr('fill', 'none')
    .attr('stroke', '#000')
    .attr('stroke-width', 1);

svg.append('text')
    .attr('x', margin.left + innerW / 2)
    .attr('y', 20)
    .attr('text-anchor', 'middle')
    .style('font-size', '12px')
    .text(TITLE);

svg.append('text')
    .attr('x', margin.left + innerW / 2)
    .attr('y', 574)
    .attr('text-anchor', 'middle')
    .style('font-size', '12px')
    .text(X_LABEL);

svg.append('text')
    .attr('transform', `translate(22,${margin.top + innerH / 2}) rotate(-90)`)
    .attr('text-anchor', 'middle')
    .style('font-size', '12px')
    .text(Y_LABEL);
</script>
</body>
</html>
